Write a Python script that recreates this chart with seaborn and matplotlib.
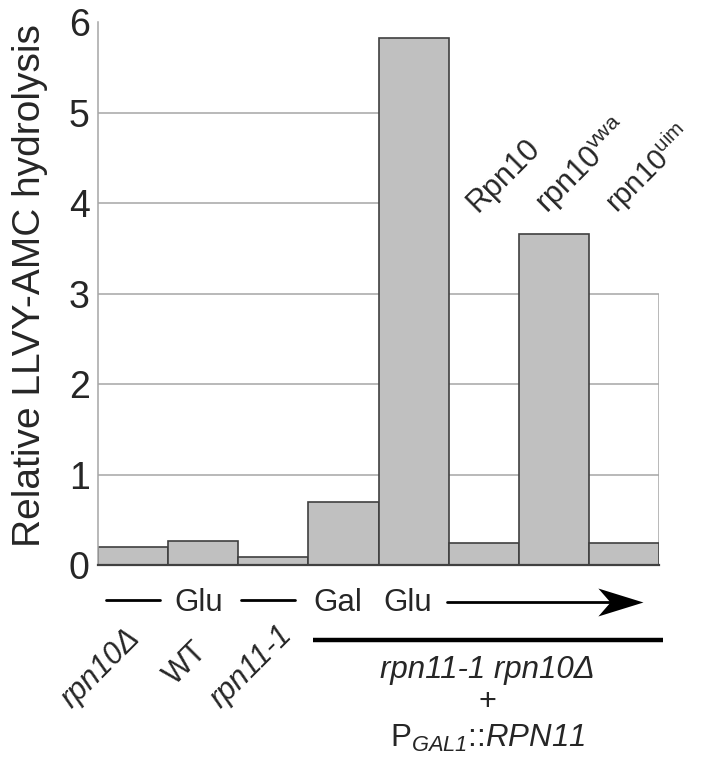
import numpy as np
import pandas as pd
import matplotlib
matplotlib.use("Agg")
import matplotlib.pyplot as plt
from matplotlib.path import Path
import seaborn as sns

# bar data (left to right)
strains = ["rpn10Δ", "WT", "rpn11-1", "Gal", "Glu", "Rpn10", "rpn10vwa", "rpn10uim"]
hydrolysis = [0.20, 0.27, 0.09, 0.70, 5.82, 0.24, 3.66, 0.24]

bottom_labels = ["rpn10Δ", "WT", "rpn11-1"]
bottom_styles = ["italic", "normal", "italic"]
top_labels = ["Rpn10", r"rpn10$^{\mathrm{vwa}}$", r"rpn10$^{\mathrm{uim}}$"]
y_ticks = [0, 1, 2, 3, 4, 5, 6]

sns.set_style("white")
plt.rcParams["font.family"] = ["Liberation Sans", "DejaVu Sans"]
plt.rcParams["mathtext.fontset"] = "custom"
plt.rcParams["mathtext.rm"] = "Liberation Sans"
plt.rcParams["mathtext.it"] = "Liberation Sans:italic"
plt.rcParams["mathtext.sf"] = "Liberation Sans:italic"  # italic incl. digits
plt.rcParams["mathtext.bf"] = "Liberation Sans:bold"

df = pd.DataFrame({"strain": strains, "value": hydrolysis})

fig = plt.figure(figsize=(7.01, 7.63), dpi=100)
ax = fig.add_axes([98 / 701, 1 - 565 / 763, 561 / 701, 543 / 763])

sns.barplot(data=df, x="strain", y="value", color="#c0c0c0", saturation=1,
            width=1, edgecolor="#404040", linewidth=1.2, ax=ax, zorder=2)

n = len(strains)
tall = int(np.argmax(hydrolysis))
grid_c = "#a6a6a6"
for lvl in [1, 2, 3]:
    ax.hlines(lvl, -0.5, n - 0.5, color=grid_c, lw=1.1, zorder=1)
for lvl in [4, 5]:
    ax.hlines(lvl, -0.5, tall - 0.5, color=grid_c, lw=1.1, zorder=1)
ax.vlines(n - 0.5, 0, 3, color=grid_c, lw=1.1, zorder=1)

ax.set_xlim(-0.5, n - 0.5)
ax.set_ylim(0, 6)
ax.set_yticks(y_ticks)
ax.set_xticks([])
ax.set_xlabel("")
ax.tick_params(axis="y", labelsize=27, direction="in", length=4, color=grid_c, pad=6)
ax.set_ylabel("Relative LLVY-AMC hydrolysis", fontsize=28)
ax.yaxis.set_label_coords(-0.09, 0.515)

for s in ["top", "right"]:
    ax.spines[s].set_visible(False)
ax.spines["left"].set_color(grid_c)
ax.spines["left"].set_linewidth(1.1)
ax.spines["bottom"].set_color("#404040")
ax.spines["bottom"].set_linewidth(1.6)

# rotated labels under the first three bars
bottom_pos = [(0.04, -0.76), (1.0, -0.9), (2.2, -0.72)]
for lab, st, (x, y) in zip(bottom_labels, bottom_styles, bottom_pos):
    ax.text(x, y, lab, rotation=45, rotation_mode="anchor", ha="right", va="center",
            fontsize=22, style=st)

# rotated labels above the last three bars
top_pos = [(4.83, 3.95), (5.83, 3.94), (6.8, 3.96)]
top_sizes = [22, 22, 21]
for lab, (x, y), fs in zip(top_labels, top_pos, top_sizes):
    ax.text(x, y, lab, rotation=45, rotation_mode="anchor", ha="left", va="center",
            fontsize=fs)

# media row: - Glu -  Gal  Glu ------>
ax.plot([-0.386, 0.384], [-0.387, -0.387], color="black", lw=2, clip_on=False)
ax.plot([1.54, 2.31], [-0.387, -0.387], color="black", lw=2, clip_on=False)
ax.text(0.93, -0.508, "Glu", ha="center", va="baseline", fontsize=22.5)
ax.text(2.92, -0.508, "Gal", ha="center", va="baseline", fontsize=22.5)
ax.text(3.92, -0.508, "Glu", ha="center", va="baseline", fontsize=22.5)
ax.plot([4.48, 7.0], [-0.41, -0.41], color="black", lw=2, clip_on=False)
head = Path([(0, 0), (-1, 0.31), (-0.73, 0), (-1, -0.31), (0, 0)],
            [Path.MOVETO, Path.LINETO, Path.LINETO, Path.LINETO, Path.CLOSEPOLY])
ax.plot([7.27], [-0.41], marker=head, markersize=65, color="black",
        markeredgewidth=0, clip_on=False)

# strain bracket
ax.plot([2.57, 7.55], [-0.83, -0.83], color="black", lw=3.2, clip_on=False,
        solid_capstyle="butt")
ax.text(5.05, -1.25, "rpn11-1 rpn10Δ", ha="center", va="baseline", fontsize=22.5,
        style="italic")
ax.text(5.05, -1.51, "+", ha="center", va="center", fontsize=22)
ax.text(5.05, -2.01, r"P$_{\mathsf{GAL1}}$::$\mathsf{RPN11}$", ha="center",
        va="baseline", fontsize=22.5)

fig.savefig("out.png", dpi=100)
